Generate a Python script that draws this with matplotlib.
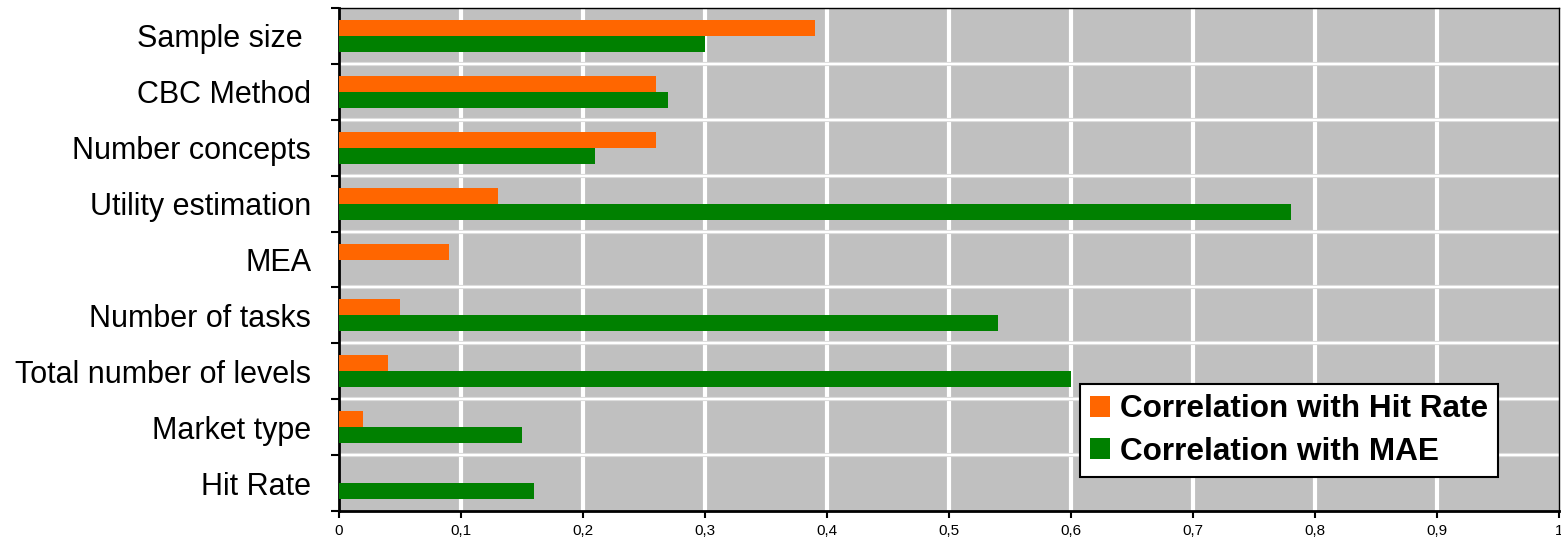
import matplotlib.pyplot as plt
import numpy as np

plt.rcParams['font.family'] = ['Liberation Sans', 'DejaVu Sans']

categories = ["Sample size ", "CBC Method", "Number concepts", "Utility estimation", "MEA",
              "Number of tasks", "Total number of levels", "Market type", "Hit Rate"]
hit_rate = [0.39, 0.26, 0.26, 0.13, 0.09, 0.05, 0.04, 0.02, 0.0]
mae = [0.30, 0.27, 0.21, 0.78, 0.0, 0.54, 0.60, 0.15, 0.16]
xticks = [0, 0.1, 0.2, 0.3, 0.4, 0.5, 0.6, 0.7, 0.8, 0.9, 1]
xtick_labels = ["0", "0,1", "0,2", "0,3", "0,4", "0,5", "0,6", "0,7", "0,8", "0,9", "1"]

fig = plt.figure(figsize=(15.61, 5.41), dpi=100)
ax = fig.add_axes([339 / 1561, 1 - 511 / 541, (1559 - 339) / 1561, (511 - 8) / 541])

n = len(categories)
y = np.arange(n)[::-1]
h = 0.285
ax.barh(y + h / 2, hit_rate, height=h, color='#ff6600', label='Correlation with Hit Rate', zorder=3)
ax.barh(y - h / 2, mae, height=h, color='#008000', label='Correlation with MAE', zorder=3)

ax.set_facecolor('#c0c0c0')
ax.set_xlim(0, 1)
ax.set_ylim(-0.5, n - 0.5)

ax.set_xticks(xticks)
ax.set_xticklabels(xtick_labels, fontsize=11)
ax.set_yticks(y)
ax.set_yticklabels(categories, fontsize=22)
ax.tick_params(axis='y', length=0, pad=20)
ax.set_yticks(np.arange(n + 1) - 0.5, minor=True)
ax.tick_params(axis='y', which='minor', length=6, width=1.5)
ax.tick_params(axis='x', length=5, width=1.5, pad=4.5)

# grid
for xv in xticks[1:-1]:
    ax.axvline(xv, color='white', lw=3, zorder=1)
for yv in np.arange(1, n) - 0.5:
    ax.axhline(yv, color='#dcdcdc', lw=3, zorder=1)
    ax.axhline(yv, color='white', lw=1.5, zorder=1)

for side in ['left', 'bottom']:
    ax.spines[side].set_linewidth(2)
for side in ['top', 'right']:
    ax.spines[side].set_linewidth(1)

leg = ax.legend(loc='lower right', bbox_to_anchor=((1498 - 339) / 1220, (511 - 477) / 503),
                prop={'weight': 'bold', 'size': 22.7}, frameon=True, fancybox=False,
                edgecolor='black', framealpha=1, handlelength=0.65, handleheight=0.65,
                handletextpad=0.3, borderpad=0.32, labelspacing=0.4, borderaxespad=0)
leg.get_frame().set_linewidth(1.5)

fig.savefig('out.png', dpi=100)
